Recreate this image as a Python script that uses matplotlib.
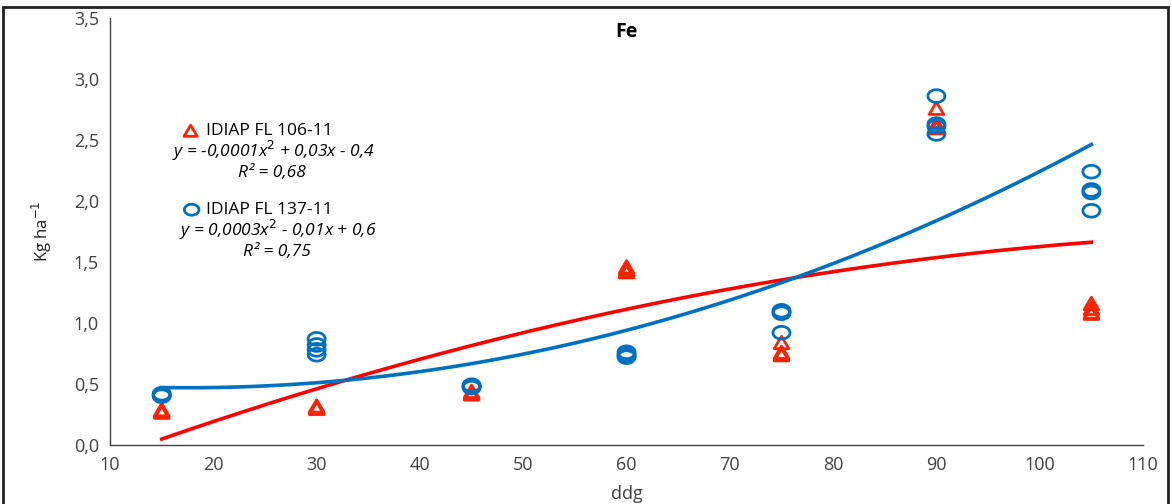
import numpy as np
import matplotlib
matplotlib.use("Agg")
import matplotlib.pyplot as plt
from matplotlib.path import Path
from matplotlib.patches import Rectangle

plt.rcParams['font.family'] = ['Open Sans', 'DejaVu Sans']

# Sampling days (ddg) and four replicates per day
days = [15, 30, 45, 60, 75, 90, 105]
fe_fl106 = [
    [0.29, 0.28, 0.27, 0.27],
    [0.32, 0.31, 0.31, 0.30],
    [0.44, 0.43, 0.42, 0.42],
    [1.46, 1.44, 1.43, 1.42],
    [0.84, 0.76, 0.75, 0.74],
    [2.76, 2.63, 2.61, 2.60],
    [1.16, 1.12, 1.09, 1.08],
]
fe_fl137 = [
    [0.42, 0.41, 0.41, 0.40],
    [0.87, 0.82, 0.78, 0.74],
    [0.49, 0.48, 0.48, 0.47],
    [0.76, 0.74, 0.73, 0.72],
    [1.10, 1.09, 1.08, 0.92],
    [2.86, 2.63, 2.61, 2.55],
    [2.24, 2.09, 2.07, 1.92],
]
label_fl106 = "IDIAP FL 106-11"
label_fl137 = "IDIAP FL 137-11"
eq_fl106 = "y = -0,0001x$^2$ + 0,03x - 0,4"
eq_fl137 = "y = 0,0003x$^2$ - 0,01x + 0,6"
r2_fl106 = "R² = 0,68"
r2_fl137 = "R² = 0,75"
x_ticks = [10, 20, 30, 40, 50, 60, 70, 80, 90, 100, 110]
y_ticks = [0.0, 0.5, 1.0, 1.5, 2.0, 2.5, 3.0, 3.5]

RED = "#FF0000"
RED_MK = "#FF2200"
BLUE = "#0070C0"

# slightly flattened ellipse marker for the circles
t = np.linspace(0, 2 * np.pi, 60)
ellipse = Path(np.column_stack([np.cos(t), 0.75 * np.sin(t)]), closed=True)
tri_pts = np.array([[-1, -0.85], [1, -0.85], [0, 0.85], [-1, -0.85]])
triangle = Path(tri_pts, closed=True)

fig = plt.figure(figsize=(11.72, 5.04), dpi=100)
ax = fig.add_axes([0.0939, 0.1171, 0.8814, 0.8472])


def flatten(xs, groups):
    xx, yy = [], []
    for x, g in zip(xs, groups):
        for v in g:
            xx.append(x)
            yy.append(v)
    return np.array(xx, float), np.array(yy, float)


x106, y106 = flatten(days, fe_fl106)
x137, y137 = flatten(days, fe_fl137)

ax.scatter(x106, y106, marker=triangle, s=110, facecolors='none',
           edgecolors=RED_MK, linewidths=2.0, zorder=3)
ax.scatter(x137, y137, marker=ellipse, s=150, facecolors='none',
           edgecolors=BLUE, linewidths=2.0, zorder=3)

# second-order polynomial trend lines
xs = np.linspace(min(days), max(days), 200)
p106 = np.polyfit(x106, y106, 2)
p137 = np.polyfit(x137, y137, 2)
ax.plot(xs, np.polyval(p106, xs), color=RED, lw=2.6, zorder=2)
ax.plot(xs, np.polyval(p137, xs), color=BLUE, lw=2.6, zorder=2)

ax.set_xlim(10, 110)
ax.set_ylim(0, 3.5)
ax.set_xticks(x_ticks)
ax.set_yticks(y_ticks)
ax.set_yticklabels([f"{v:.1f}".replace('.', ',') for v in y_ticks])
ax.tick_params(length=0, labelsize=13, colors='#404040', pad=8)
for s in ['top', 'right']:
    ax.spines[s].set_visible(False)
for s in ['left', 'bottom']:
    ax.spines[s].set_color('#404040')
    ax.spines[s].set_linewidth(1.0)

ax.set_xlabel("ddg", fontsize=13, color='#404040', labelpad=8)
ax.set_ylabel("Kg ha$^{-1}$", fontsize=12, color='#202020', labelpad=14)
ax.set_title("Fe", fontsize=14, fontweight='bold', y=0.935)

# legend-style annotations with trend equations
tr = ax.transAxes
fs = 12.5
ax.scatter([0.078], [0.736], transform=tr, marker=triangle, s=90,
           facecolors='none', edgecolors=RED_MK, linewidths=2.0, clip_on=False)
ax.text(0.093, 0.736, label_fl106, transform=tr, fontsize=fs, va='center')
ax.text(0.158, 0.688, eq_fl106, transform=tr, fontsize=fs, style='italic',
        ha='center', va='center')
ax.text(0.157, 0.636, r2_fl106, transform=tr, fontsize=fs, style='italic',
        ha='center', va='center')
ax.scatter([0.079], [0.551], transform=tr, marker=ellipse, s=110,
           facecolors='none', edgecolors=BLUE, linewidths=2.0, clip_on=False)
ax.text(0.093, 0.551, label_fl137, transform=tr, fontsize=fs, va='center')
ax.text(0.162, 0.503, eq_fl137, transform=tr, fontsize=fs, style='italic',
        ha='center', va='center')
ax.text(0.162, 0.451, r2_fl137, transform=tr, fontsize=fs, style='italic',
        ha='center', va='center')

# outer frame around the chart area
fig.patches.append(Rectangle((3 / 1172, -0.05), 1165 / 1172, 1.05 - 7 / 504,
                             transform=fig.transFigure, fill=False,
                             edgecolor='#202020', linewidth=2.0))

fig.savefig("out.png", dpi=100)
